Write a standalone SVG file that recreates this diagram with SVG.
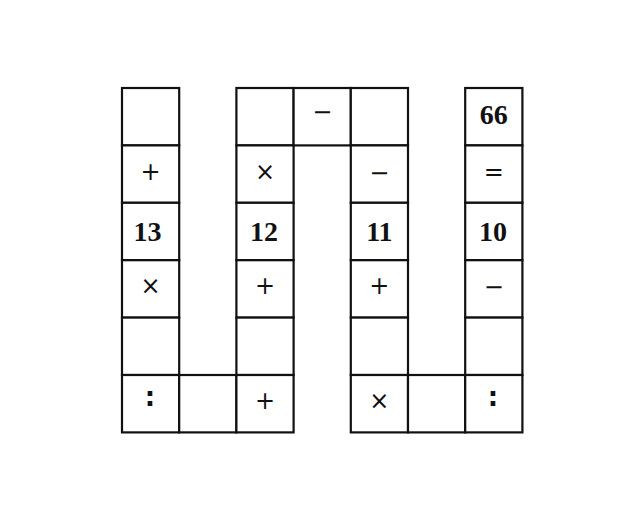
<svg xmlns="http://www.w3.org/2000/svg" width="629" height="523" viewBox="0 0 629 523">
<style>
.c{fill:#fff;stroke:#111;stroke-width:2.2}
.n{font-family:"Liberation Serif",serif;font-weight:bold;font-size:28px;fill:#111;text-anchor:middle}
.o{font-family:"DejaVu Sans",sans-serif;font-size:24px;fill:#111;text-anchor:middle}
.k{font-family:"DejaVu Sans",sans-serif;font-weight:bold;font-size:26px;fill:#111;text-anchor:middle}
</style>
<rect width="629" height="523" fill="#fff"/>
<g id="col0">
<g id="c0r0"><rect class="c" x="122" y="88" width="57.2" height="57.4"/></g>
<g id="c0r1"><rect class="c" x="122" y="145.4" width="57.2" height="57.4"/><text class="o" x="150.6" y="180">+</text></g>
<g id="c0r2"><rect class="c" x="122" y="202.8" width="57.2" height="57.4"/><text class="n" x="147.5" y="240.5">13</text></g>
<g id="c0r3"><rect class="c" x="122" y="260.2" width="57.2" height="57.4"/><text class="o" x="150.6" y="294">×</text></g>
<g id="c0r4"><rect class="c" x="122" y="317.6" width="57.2" height="57.4"/></g>
<g id="c0r5"><rect class="c" x="122" y="375" width="57.2" height="57.4"/><text class="k" x="150" y="406">:</text></g>
</g>
<g id="col1">
<g id="c1r5"><rect class="c" x="179.2" y="375" width="57.2" height="57.4"/></g>
</g>
<g id="col2">
<g id="c2r0"><rect class="c" x="236.4" y="88" width="57.2" height="57.4"/></g>
<g id="c2r1"><rect class="c" x="236.4" y="145.4" width="57.2" height="57.4"/><text class="o" x="265" y="180">×</text></g>
<g id="c2r2"><rect class="c" x="236.4" y="202.8" width="57.2" height="57.4"/><text class="n" x="264" y="240.5">12</text></g>
<g id="c2r3"><rect class="c" x="236.4" y="260.2" width="57.2" height="57.4"/><text class="o" x="265" y="294">+</text></g>
<g id="c2r4"><rect class="c" x="236.4" y="317.6" width="57.2" height="57.4"/></g>
<g id="c2r5"><rect class="c" x="236.4" y="375" width="57.2" height="57.4"/><text class="o" x="265" y="409">+</text></g>
</g>
<g id="col3">
<g id="c3r0"><rect class="c" x="293.6" y="88" width="57.2" height="57.4"/><text class="o" x="322.2" y="120">−</text></g>
</g>
<g id="col4">
<g id="c4r0"><rect class="c" x="350.8" y="88" width="57.2" height="57.4"/></g>
<g id="c4r1"><rect class="c" x="350.8" y="145.4" width="57.2" height="57.4"/><text class="o" x="379.4" y="181">−</text></g>
<g id="c4r2"><rect class="c" x="350.8" y="202.8" width="57.2" height="57.4"/><text class="n" x="379.4" y="240.5">11</text></g>
<g id="c4r3"><rect class="c" x="350.8" y="260.2" width="57.2" height="57.4"/><text class="o" x="379.4" y="294">+</text></g>
<g id="c4r4"><rect class="c" x="350.8" y="317.6" width="57.2" height="57.4"/></g>
<g id="c4r5"><rect class="c" x="350.8" y="375" width="57.2" height="57.4"/><text class="o" x="379.4" y="409">×</text></g>
</g>
<g id="col5">
<g id="c5r5"><rect class="c" x="408" y="375" width="57.2" height="57.4"/></g>
</g>
<g id="col6">
<g id="c6r0"><rect class="c" x="465.2" y="88" width="57.2" height="57.4"/><text class="n" x="493.8" y="124">66</text></g>
<g id="c6r1"><rect class="c" x="465.2" y="145.4" width="57.2" height="57.4"/><text class="o" x="493.8" y="180">=</text></g>
<g id="c6r2"><rect class="c" x="465.2" y="202.8" width="57.2" height="57.4"/><text class="n" x="493" y="240.5">10</text></g>
<g id="c6r3"><rect class="c" x="465.2" y="260.2" width="57.2" height="57.4"/><text class="o" x="493.8" y="295">−</text></g>
<g id="c6r4"><rect class="c" x="465.2" y="317.6" width="57.2" height="57.4"/></g>
<g id="c6r5"><rect class="c" x="465.2" y="375" width="57.2" height="57.4"/><text class="k" x="493" y="406">:</text></g>
</g>
</svg>
